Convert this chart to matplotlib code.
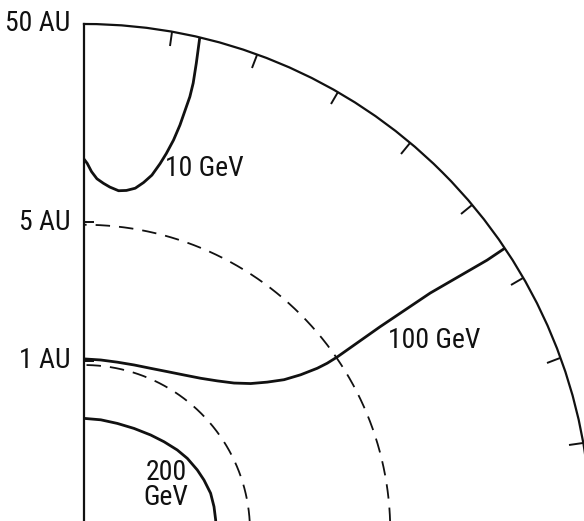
import numpy as np
import matplotlib
matplotlib.use("Agg")
import matplotlib.pyplot as plt
from matplotlib import font_manager as fm

# Contour lines: polar angle (degrees from the horizontal) and heliocentric distance (AU)
gev10_theta = [90, 89.5, 88.8, 87.9, 86.8, 85.7, 84.2, 82.9, 81.5, 80.3, 79.2,
               78.3, 77.7, 77.1, 76.7, 76.5, 76.3, 76.3, 76.5, 76.8]
gev10_r = [10.4, 9.9, 9.0, 8.3, 7.9, 7.6, 7.35, 7.45, 7.75, 8.4, 9.3,
           10.8, 12.3, 14.6, 17.6, 20.8, 24.9, 29.3, 37.0, 50]

gev100_theta = [90, 84.4, 78.8, 73.2, 67.7, 62.4, 57.3, 52.6, 48.4, 44.6, 41.5,
                39.1, 37.1, 35.8, 34.9, 34.6, 34.5, 34.6, 34.5, 33.9, 33.9]
gev100_r = [1.02, 1.017, 1.02, 1.036, 1.065, 1.116, 1.19, 1.289, 1.423, 1.598, 1.833,
            2.145, 2.547, 3.075, 3.764, 4.281, 4.924, 9.01, 18.2, 39.0, 50]

gev200_theta = [90, 81.4, 72.8, 64.0, 55.2, 48.1, 41.0, 35.1, 28.3, 23.0, 16.6,
                10.6, 4.8, 0]
gev200_r = [0.511, 0.51, 0.511, 0.52, 0.537, 0.556, 0.58, 0.599, 0.616, 0.628, 0.641,
            0.642, 0.641, 0.641]

# Reference circles (dashed)
circle_r = [0.95, 4.85]

# Radial scale labels
radial_ticks = [1, 5, 50]
radial_labels = ["1 AU", "5 AU", "50 AU"]

R_MIN, R_MAX = 10 ** -0.86, 50
INK = "#111111"


def label_font(size):
    """Prefer a narrow sans face for the lettering."""
    for f in fm.fontManager.ttflist:
        if f.name in ("Liberation Sans Narrow", "Roboto Condensed", "Open Sans Condensed"):
            if f.style == "normal" and f.weight in (400, "normal", "regular"):
                return fm.FontProperties(fname=f.fname, size=size)
    for f in fm.fontManager.ttflist:
        if f.name == "DejaVu Sans" and f.stretch in ("condensed", "semi-condensed") \
                and f.style == "normal" and f.weight in (400, "normal"):
            return fm.FontProperties(fname=f.fname, size=size)
    return fm.FontProperties(family=["Roboto", "DejaVu Sans"], size=size - 2)


FP = label_font(20)

fig = plt.figure(figsize=(5.84, 5.21), dpi=100)
fig.patch.set_facecolor("white")

W, H = 584, 521
cx, cy, rad = 84, 531, 507
ax = fig.add_axes([cx / W, (H - cy) / H, rad / W, rad / H], projection="polar")
ax.set_thetamin(0)
ax.set_thetamax(90)
ax.set_rscale("log")
ax.set_rlim(R_MIN, R_MAX)
ax.grid(False)
ax.set_yticks([])
ax.set_xticks(np.deg2rad(np.arange(10, 90, 10)))
ax.set_xticklabels([])
ax.xaxis.set_ticks_position("top")
ax.tick_params(axis="x", direction="in", length=10, width=1.4, color=INK)

for name in ("polar", "end", "start"):
    ax.spines[name].set_linewidth(1.6)
    ax.spines[name].set_color(INK)
ax.spines["inner"].set_visible(False)

# dashed reference circles
arc = np.deg2rad(np.linspace(0, 90, 181))
for rc in circle_r:
    ax.plot(arc, np.full_like(arc, rc), color=INK, lw=1.3,
            linestyle=(0, (8, 5)), solid_capstyle="butt")

# contour curves
for th, rr in ((gev10_theta, gev10_r), (gev100_theta, gev100_r),
               (gev200_theta, gev200_r)):
    ax.plot(np.deg2rad(th), rr, color=INK, lw=2.0, solid_joinstyle="round",
            solid_capstyle="butt")

# small inward ticks on the vertical axis
ax.plot([np.pi / 2] * 2, [1, 5], ls="none", marker=1, markersize=7,
        markeredgewidth=1.4, color=INK, clip_on=False)

# radial labels
for rv, lab in zip(radial_ticks, radial_labels):
    ax.annotate(lab, xy=(np.pi / 2, rv), xytext=(-10, 0),
                textcoords="offset points", ha="right", va="center",
                fontproperties=FP, color=INK, annotation_clip=False)

# curve labels
fig.text(165 / W, 1 - 169 / H, "10 GeV", ha="left", va="center",
         fontproperties=FP, color=INK)
fig.text(388 / W, 1 - 341 / H, "100 GeV", ha="left", va="center",
         fontproperties=FP, color=INK)
fig.text(166 / W, 1 - 485 / H, "200\nGeV", ha="center", va="center",
         fontproperties=FP, color=INK, linespacing=0.95)

fig.savefig("out.png", dpi=100, facecolor="white")
